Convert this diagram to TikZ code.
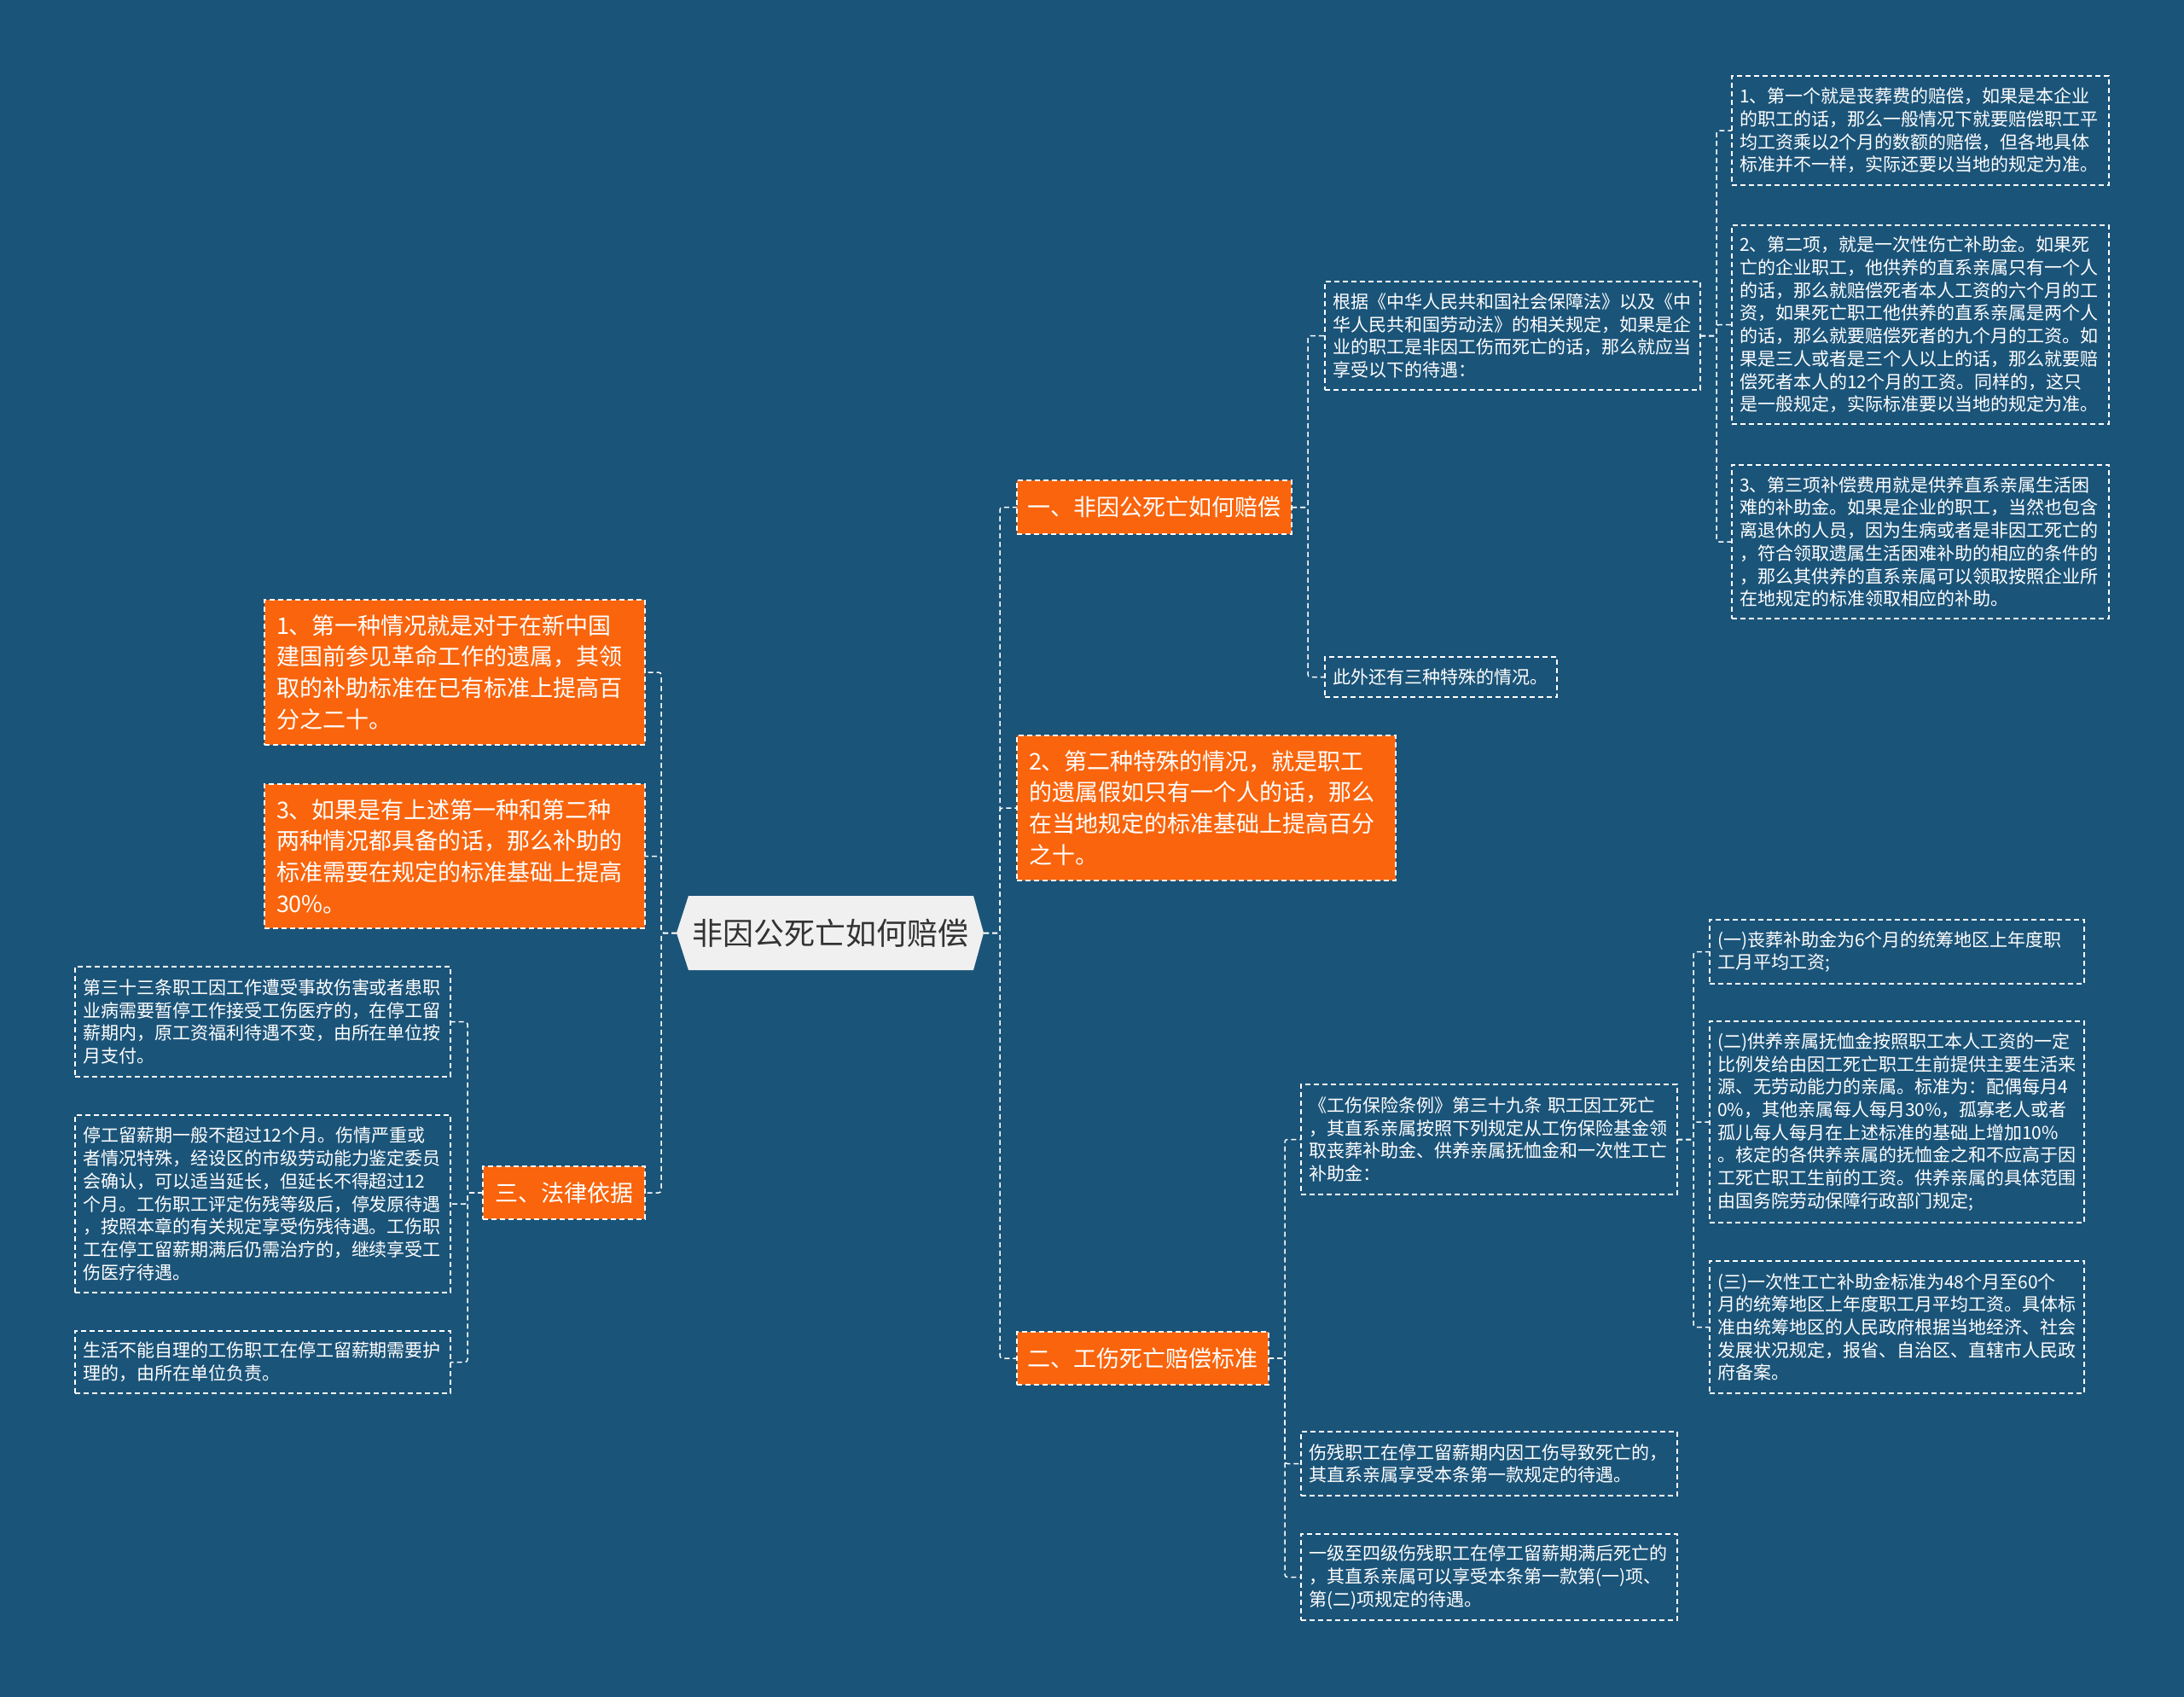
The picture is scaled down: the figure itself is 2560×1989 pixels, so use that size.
\documentclass[tikz,border=0pt]{standalone}
\usepackage{fontspec}
\newfontfamily\cjk{Noto Sans CJK SC}
\definecolor{bgc}{HTML}{1B5479}
\definecolor{org}{HTML}{F9640C}
\definecolor{rootc}{HTML}{F0F0F0}
\definecolor{roottext}{HTML}{333333}
\pgfdeclarelayer{bg}
\pgfsetlayers{bg,main}
\tikzset{
 dsh/.style={draw=white, line width=1.5pt, dash pattern=on 6pt off 4pt},
 box/.style={dsh, text=white, align=left, inner xsep=9pt, inner ysep=0pt, outer sep=0pt, font=\cjk\fontsize{21}{26.7}\selectfont},
 obox/.style={box, fill=org, font=\cjk\fontsize{27}{36.7}\selectfont, inner xsep=14pt},
 head/.style={dsh, fill=org, text=white, inner sep=0pt, outer sep=0pt, font=\cjk\fontsize{27}{32}\selectfont},
 rootnode/.style={text=roottext, inner sep=0pt, outer sep=0pt, font=\cjk\fontsize{36}{40}\selectfont},
 conn/.style={dsh, rounded corners=3pt},
}
\begin{document}
\begin{tikzpicture}[x=1pt,y=-1pt]
\begin{pgfonlayer}{bg}
\fill[bgc] (0,0) rectangle (2560,1989);
\end{pgfonlayer}
\useasboundingbox (0,0) rectangle (2560,1989);

% root
\node[rootnode, minimum width=360pt, minimum height=87pt] (root) at (973,1093.5) {非因公死亡如何赔偿};
\begin{pgfonlayer}{bg}
\fill[rootc] (root.west) -- ([xshift=14pt]root.north west) -- ([xshift=-12pt]root.north east) -- (root.east) -- ([xshift=-12pt]root.south east) -- ([xshift=14pt]root.south west) -- cycle;
\end{pgfonlayer}

% left side
\node[obox, text width=418pt, minimum height=170pt] (L1) at (533,788) {1、第一种情况就是对于在新中国\\建国前参见革命工作的遗属，其领\\取的补助标准在已有标准上提高百\\分之二十。};
\node[obox, text width=418pt, minimum height=169pt] (L3) at (533,1003.5) {3、如果是有上述第一种和第二种\\两种情况都具备的话，那么补助的\\标准需要在规定的标准基础上提高\\30\%。};
\node[head, minimum width=190pt, minimum height=62pt] (LAW) at (661,1398) {三、法律依据};

\node[box, text width=422pt, minimum height=129pt] (T1) at (308,1197.5) {第三十三条职工因工作遭受事故伤害或者患职\\业病需要暂停工作接受工伤医疗的，在停工留\\薪期内，原工资福利待遇不变，由所在单位按\\月支付。};
\node[box, text width=422pt, minimum height=208pt] (T2) at (308,1411) {停工留薪期一般不超过12个月。伤情严重或\\者情况特殊，经设区的市级劳动能力鉴定委员\\会确认，可以适当延长，但延长不得超过12\\个月。工伤职工评定伤残等级后，停发原待遇\\，按照本章的有关规定享受伤残待遇。工伤职\\工在停工留薪期满后仍需治疗的，继续享受工\\伤医疗待遇。};
\node[box, text width=422pt, minimum height=73pt] (T3) at (308,1596.5) {生活不能自理的工伤职工在停工留薪期需要护\\理的，由所在单位负责。};

% right side
\node[head, minimum width=322pt, minimum height=63pt] (H1) at (1353,594.5) {一、非因公死亡如何赔偿};
\node[obox, text width=416pt, minimum height=170pt] (H2) at (1414,947) {2、第二种特殊的情况，就是职工\\的遗属假如只有一个人的话，那么\\在当地规定的标准基础上提高百分\\之十。};
\node[head, minimum width=295pt, minimum height=62pt] (H3) at (1339.5,1592) {二、工伤死亡赔偿标准};

\node[box, text width=422pt, minimum height=127pt] (A1) at (1773,393.5) {根据《中华人民共和国社会保障法》以及《中\\华人民共和国劳动法》的相关规定，如果是企\\业的职工是非因工伤而死亡的话，那么就应当\\享受以下的待遇：};
\node[box, text width=254pt, minimum height=47pt] (A2) at (1689,793.5) {此外还有三种特殊的情况。};

\node[box, text width=424pt, minimum height=128pt] (B1) at (2251,153) {1、第一个就是丧葬费的赔偿，如果是本企业\\的职工的话，那么一般情况下就要赔偿职工平\\均工资乘以2个月的数额的赔偿，但各地具体\\标准并不一样，实际还要以当地的规定为准。};
\node[box, text width=424pt, minimum height=233pt] (B2) at (2251,380.5) {2、第二项，就是一次性伤亡补助金。如果死\\亡的企业职工，他供养的直系亲属只有一个人\\的话，那么就赔偿死者本人工资的六个月的工\\资，如果死亡职工他供养的直系亲属是两个人\\的话，那么就要赔偿死者的九个月的工资。如\\果是三人或者是三个人以上的话，那么就要赔\\偿死者本人的12个月的工资。同样的，这只\\是一般规定，实际标准要以当地的规定为准。};
\node[box, text width=424pt, minimum height=180pt] (B3) at (2251,635) {3、第三项补偿费用就是供养直系亲属生活困\\难的补助金。如果是企业的职工，当然也包含\\离退休的人员，因为生病或者是非因工死亡的\\，符合领取遗属生活困难补助的相应的条件的\\，那么其供养的直系亲属可以领取按照企业所\\在地规定的标准领取相应的补助。};

\node[box, text width=423pt, minimum height=129pt] (C1) at (1745.5,1335.5) {《工伤保险条例》第三十九条 职工因工死亡\\，其直系亲属按照下列规定从工伤保险基金领\\取丧葬补助金、供养亲属抚恤金和一次性工亡\\补助金：};
\node[box, text width=423pt, minimum height=75pt] (C2) at (1745.5,1715.5) {伤残职工在停工留薪期内因工伤导致死亡的，\\其直系亲属享受本条第一款规定的待遇。};
\node[box, text width=423pt, minimum height=101pt] (C3) at (1745.5,1848.5) {一级至四级伤残职工在停工留薪期满后死亡的\\，其直系亲属可以享受本条第一款第(一)项、\\第(二)项规定的待遇。};

\node[box, text width=421pt, minimum height=75pt] (D1) at (2223.5,1115.5) {(一)丧葬补助金为6个月的统筹地区上年度职\\工月平均工资;};
\node[box, text width=421pt, minimum height=236pt] (D2) at (2223.5,1315) {(二)供养亲属抚恤金按照职工本人工资的一定\\比例发给由因工死亡职工生前提供主要生活来\\源、无劳动能力的亲属。标准为：配偶每月4\\0\%，其他亲属每人每月30\%，孤寡老人或者\\孤儿每人每月在上述标准的基础上增加10\%\\。核定的各供养亲属的抚恤金之和不应高于因\\工死亡职工生前的工资。供养亲属的具体范围\\由国务院劳动保障行政部门规定;};
\node[box, text width=421pt, minimum height=155pt] (D3) at (2223.5,1555.5) {(三)一次性工亡补助金标准为48个月至60个\\月的统筹地区上年度职工月平均工资。具体标\\准由统筹地区的人民政府根据当地经济、社会\\发展状况规定，报省、自治区、直辖市人民政\\府备案。};

% connectors
\draw[conn] (root.west) -- ++(-18,0) |- (L1.east);
\draw[conn] (root.west) -- ++(-18,0) |- (L3.east);
\draw[conn] (root.west) -- ++(-18,0) |- (LAW.east);
\draw[conn] (LAW.west) -- ++(-18,0) |- (T1.east);
\draw[conn] (LAW.west) -- ++(-18,0) |- (T2.east);
\draw[conn] (LAW.west) -- ++(-18,0) |- (T3.east);

\draw[conn] (root.east) -- ++(19,0) |- (H1.west);
\draw[conn] (root.east) -- ++(19,0) |- (H2.west);
\draw[conn] (root.east) -- ++(19,0) |- (H3.west);
\draw[conn] (H1.east) -- ++(19,0) |- (A1.west);
\draw[conn] (H1.east) -- ++(19,0) |- (A2.west);
\draw[conn] (A1.east) -- ++(19,0) |- (B1.west);
\draw[conn] (A1.east) -- ++(19,0) |- (B2.west);
\draw[conn] (A1.east) -- ++(19,0) |- (B3.west);
\draw[conn] (H3.east) -- ++(19,0) |- (C1.west);
\draw[conn] (H3.east) -- ++(19,0) |- (C2.west);
\draw[conn] (H3.east) -- ++(19,0) |- (C3.west);
\draw[conn] (C1.east) -- ++(19,0) |- (D1.west);
\draw[conn] (C1.east) -- ++(19,0) |- (D2.west);
\draw[conn] (C1.east) -- ++(19,0) |- (D3.west);
\end{tikzpicture}
\end{document}
